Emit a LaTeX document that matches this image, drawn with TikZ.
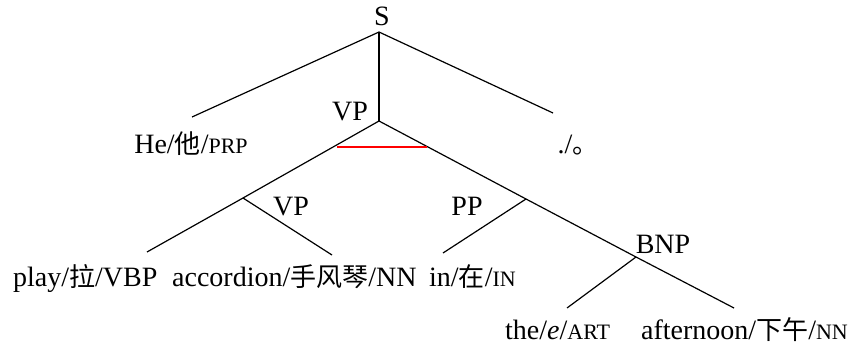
\documentclass[tikz,border=0pt]{standalone}
\usepackage{fontspec}
\setmainfont{Liberation Serif}
\newfontfamily\cjk{Noto Sans CJK SC}
\newcommand\tg[1]{{\fontsize{22}{22}\selectfont #1}}
\newcommand\zh[1]{{\cjk\fontsize{26}{26}\selectfont #1}}
\begin{document}
\begin{tikzpicture}[x=1pt,y=-1pt,
  lbl/.style={font=\fontsize{28}{28}\selectfont, inner sep=0pt},
  edge/.style={line width=1.2pt, black},
  redline/.style={line width=1.2pt, red}]
\useasboundingbox (0,0) rectangle (851,348);
% tree points
\coordinate (S) at (379,32);
\coordinate (VP) at (379,121);
\coordinate (heE) at (192,117);
\coordinate (dotE) at (553,113);
\coordinate (VP2) at (243,198);
\coordinate (playE) at (147,252);
\coordinate (accE) at (332,255);
\coordinate (PP) at (526,199);
\coordinate (inE) at (443,253);
\coordinate (BNP) at (636,257);
\coordinate (theE) at (567,308);
\coordinate (aftE) at (734,308);
\coordinate (rL) at (337,147);
\coordinate (rR) at (427,147);
% edges
\draw[edge] (S) -- (heE);
\draw[edge] (S) -- (VP);
\draw[edge] (S) -- (dotE);
\draw[edge] (VP) -- (VP2) -- (playE);
\draw[edge] (VP2) -- (accE);
\draw[edge] (VP) -- (PP) -- (BNP) -- (aftE);
\draw[edge] (PP) -- (inE);
\draw[edge] (BNP) -- (theE);
\draw[redline] (rL) -- (rR);
% labels
\node[lbl, anchor=base] (lS) at (382,25) {S};
\node[lbl, anchor=base] (lVP) at (350,120) {VP};
\node[lbl, anchor=base] (lHe) at (191,153) {He/\zh{他}/\tg{PRP}};
\node[lbl, anchor=base] (lDot) at (578,153) {./\zh{。}};
\node[lbl, anchor=base] (lVP2) at (291,215) {VP};
\node[lbl, anchor=base] (lPP) at (467,215) {PP};
\node[lbl, anchor=base] (lBNP) at (663,253) {BNP};
\node[lbl, anchor=base west] (lPlay) at (13,286) {play/\zh{拉}/VBP};
\node[lbl, anchor=base west] (lAcc) at (172,286) {accordion/\zh{手风琴}/NN};
\node[lbl, anchor=base west] (lIn) at (429,286) {in/\zh{在}/\tg{IN}};
\node[lbl, anchor=base west] (lThe) at (505,339) {the/\textit{e}/\tg{ART}};
\node[lbl, anchor=base east] (lAft) at (848,339) {afternoon/\zh{下午}/\tg{NN}};
\end{tikzpicture}
\end{document}
